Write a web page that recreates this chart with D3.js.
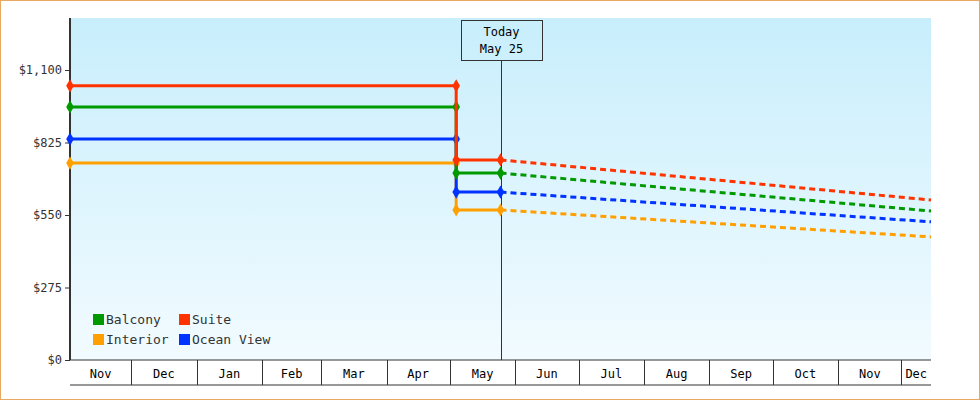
<!DOCTYPE html>
<html><head><meta charset="utf-8">
<script src="https://cdn.jsdelivr.net/npm/d3@7"></script>
<style>body{margin:0;background:#fff}svg{display:block;font-family:"DejaVu Sans Mono",monospace}</style>
</head><body><svg id="c" width="980" height="400"></svg>
<script>
const series = ["Balcony", "Suite", "Interior", "Ocean View"];
const colors = ["#009900", "#ff3300", "#ffa000", "#0033ff"];
const oldPrices = [960, 1040, 747, 838];
const todayPrices = [709, 759, 569, 637];
const endPrices = [565, 607, 467, 524];
const yTicks = [0, 275, 550, 825, 1100];
const months = ["Nov","Dec","Jan","Feb","Mar","Apr","May","Jun","Jul","Aug","Sep","Oct","Nov","Dec"];
const start = new Date(2024, 10, 2), drop = new Date(2025, 4, 4),
      today = new Date(2025, 4, 25), end = new Date(2025, 11, 15);

const svg = d3.select("#c");
const m = {l: 70, r: 931, t: 18, b: 360};
const x = d3.scaleTime().domain([start, end]).range([m.l, m.r]);
const y = d3.scaleLinear().domain([0, 1100]).range([m.b, 70]);

svg.append("rect").attr("x", 0.5).attr("y", 0.5).attr("width", 979).attr("height", 399)
  .attr("fill", "#fff").attr("stroke", "#e8a860");
const g = svg.append("defs").append("linearGradient").attr("id", "bg").attr("x1", 0).attr("y1", 0).attr("x2", 0).attr("y2", 1);
g.append("stop").attr("offset", 0).attr("stop-color", "#c8eefc");
g.append("stop").attr("offset", 1).attr("stop-color", "#f2fbff");
svg.append("rect").attr("x", m.l).attr("y", m.t).attr("width", m.r - m.l).attr("height", m.b - m.t).attr("fill", "url(#bg)");

// y axis
const ya = svg.append("g").attr("transform", `translate(${m.l},0)`)
  .call(d3.axisLeft(y).tickValues(yTicks).tickSize(5).tickFormat(d => "$" + d3.format(",")(d)));
ya.select(".domain").remove();
ya.selectAll("text").attr("font-family", "DejaVu Sans Mono").attr("font-size", 12).attr("fill", "#333");
ya.selectAll("line").attr("stroke", "#333");
svg.append("line").attr("x1", m.l).attr("x2", m.l).attr("y1", m.t).attr("y2", m.b).attr("stroke", "#333").attr("stroke-width", 2);

// month boxes
const bounds = [start].concat(months.slice(1).map((d, i) => new Date(2024, 11 + i, 1))).concat([end]);
const xa = svg.append("g");
xa.append("line").attr("x1", m.l).attr("x2", m.r).attr("y1", m.b).attr("y2", m.b).attr("stroke", "#333");
xa.append("line").attr("x1", m.l).attr("x2", m.r).attr("y1", 385).attr("y2", 385).attr("stroke", "#333");
bounds.slice(1, -1).forEach(d => xa.append("line").attr("x1", Math.round(x(d)) + .5).attr("x2", Math.round(x(d)) + .5)
  .attr("y1", m.b).attr("y2", 385).attr("stroke", "#333"));
months.forEach((mo, i) => xa.append("text").attr("x", (x(bounds[i]) + x(bounds[i + 1])) / 2).attr("y", 378)
  .attr("text-anchor", "middle").attr("font-size", 12).attr("fill", "#000").text(mo));

// today marker
const tx = Math.round(x(today)) + .5;
svg.append("line").attr("x1", tx).attr("x2", tx).attr("y1", 60).attr("y2", m.b).attr("stroke", "#333");
svg.append("rect").attr("x", tx - 40).attr("y", 20.5).attr("width", 81).attr("height", 40).attr("fill", "none").attr("stroke", "#333");
svg.append("text").attr("x", tx).attr("y", 36).attr("text-anchor", "middle").attr("font-size", 12).text("Today");
svg.append("text").attr("x", tx).attr("y", 53).attr("text-anchor", "middle").attr("font-size", 12).text("May 25");

const line = d3.line().x(d => x(d[0])).y(d => y(d[1]));
const draw = [2, 3, 0, 1];
draw.forEach(i => {
  const c = colors[i];
  const pts = [[start, oldPrices[i]], [drop, oldPrices[i]], [drop, todayPrices[i]], [today, todayPrices[i]]];
  svg.append("path").attr("d", line(pts)).attr("fill", "none").attr("stroke", c).attr("stroke-width", 3);
  svg.append("path").attr("d", line([[today, todayPrices[i]], [end, endPrices[i]]])).attr("fill", "none")
    .attr("stroke", c).attr("stroke-width", 3).attr("stroke-dasharray", "6,4");
  pts.forEach(p => svg.append("path").attr("d", d3.symbol(d3.symbolDiamond, 50)())
    .attr("transform", `translate(${x(p[0])},${y(p[1])})`).attr("fill", c));
});

// legend
series.forEach((s, i) => {
  const lx = 93 + (i % 2) * 86, ly = 314 + Math.floor(i / 2) * 20;
  svg.append("rect").attr("x", lx).attr("y", ly).attr("width", 11).attr("height", 11).attr("fill", colors[i]);
  svg.append("text").attr("x", lx + 13).attr("y", ly + 10).attr("font-size", 13).attr("fill", "#333").text(s);
});
</script></body></html>
